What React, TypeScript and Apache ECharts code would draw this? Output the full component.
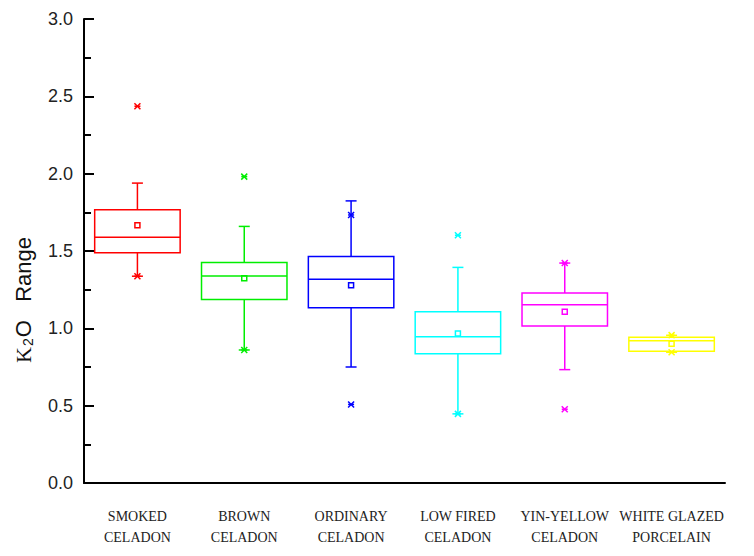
import React, { useEffect, useRef } from "react";
import * as echarts from "echarts";

// Glaze groups along the x axis
const categories = [
  "SMOKED\nCELADON",
  "BROWN\nCELADON",
  "ORDINARY\nCELADON",
  "LOW FIRED\nCELADON",
  "YIN-YELLOW\nCELADON",
  "WHITE GLAZED\nPORCELAIN",
];
const colors = ["#ff0000", "#00ee00", "#0000ff", "#00ffff", "#ff00ff", "#ffff00"];

// K2O box statistics per group
const whiskerLow = [1.337, 0.86, 0.75, 0.447, 0.733, 0.845];
const q1 = [1.489, 1.187, 1.133, 0.835, 1.015, 0.852];
const median = [1.589, 1.339, 1.318, 0.945, 1.153, 0.92];
const q3 = [1.767, 1.426, 1.464, 1.108, 1.229, 0.943];
const whiskerHigh = [1.939, 1.659, 1.824, 1.394, 1.422, 0.955];
const mean = [1.667, 1.324, 1.278, 0.966, 1.108, 0.9];
const crossLow = [1.337, 0.86, 0.508, 0.447, 0.477, 0.845];
const crossHigh = [2.436, 1.981, 1.733, 1.602, 1.422, 0.956];

const yTicks = { min: 0, max: 3, interval: 0.5 };

const rows = categories.map((_, i) => [
  i,
  whiskerLow[i],
  q1[i],
  median[i],
  q3[i],
  whiskerHigh[i],
  mean[i],
  crossLow[i],
  crossHigh[i],
]);

function renderBox(params: any, api: any) {
  const i = api.value(0);
  const color = colors[i];
  const band = api.size([1, 0])[0];
  const bw = band * 0.8;
  const pt = (v: number) => api.coord([i, v]);
  const cx = pt(0)[0];
  const yWL = pt(api.value(1))[1];
  const yQ1 = pt(api.value(2))[1];
  const yMed = pt(api.value(3))[1];
  const yQ3 = pt(api.value(4))[1];
  const yWH = pt(api.value(5))[1];
  const yMean = pt(api.value(6))[1];
  const yXL = pt(api.value(7))[1];
  const yXH = pt(api.value(8))[1];
  const stroke = { stroke: color, lineWidth: 1.5, fill: "none" };
  const line = (x1: number, y1: number, x2: number, y2: number) => ({
    type: "line",
    shape: { x1, y1, x2, y2 },
    style: stroke,
  });
  const cap = 5.5;
  const cross = (y: number) => {
    const s = 3;
    return [
      line(cx - s, y - s, cx + s, y + s),
      line(cx - s, y + s, cx + s, y - s),
      line(cx - s, y, cx + s, y),
    ];
  };
  return {
    type: "group",
    children: [
      line(cx, yWH, cx, yQ3),
      line(cx, yQ1, cx, yWL),
      line(cx - cap, yWH, cx + cap, yWH),
      line(cx - cap, yWL, cx + cap, yWL),
      {
        type: "rect",
        shape: { x: cx - bw / 2, y: yQ3, width: bw, height: yQ1 - yQ3 },
        style: stroke,
      },
      line(cx - bw / 2, yMed, cx + bw / 2, yMed),
      {
        type: "rect",
        shape: { x: cx - 2.5, y: yMean - 2.5, width: 5, height: 5 },
        style: stroke,
      },
      ...cross(yXL),
      ...cross(yXH),
    ],
  };
}

export default function App() {
  const ref = useRef<HTMLDivElement>(null);
  useEffect(() => {
    if (!ref.current) return;
    const chart = echarts.init(ref.current, undefined, { renderer: "svg" });
    chart.setOption({
      animation: false,
      backgroundColor: "#ffffff",
      grid: { left: 76, right: 21, top: 11, bottom: 57 },
      xAxis: {
        type: "category",
        data: categories,
        boundaryGap: true,
        axisLine: { lineStyle: { color: "#000", width: 2 } },
        axisTick: { alignWithLabel: true, length: 9, lineStyle: { color: "#000", width: 2 } },
        axisLabel: {
          interval: 0,
          color: "#222",
          fontFamily: "'Liberation Serif', 'Times New Roman', serif",
          fontSize: 14,
          lineHeight: 21,
          margin: 23,
        },
        splitLine: { show: false },
      },
      yAxis: {
        type: "value",
        min: yTicks.min,
        max: yTicks.max,
        interval: yTicks.interval,
        axisLine: { show: true, lineStyle: { color: "#000", width: 2 } },
        axisTick: { show: true, inside: true, length: 10, lineStyle: { color: "#000", width: 2 } },
        minorTick: { show: true, splitNumber: 2, length: 7, lineStyle: { color: "#000", width: 2 } },
        axisLabel: {
          color: "#222",
          fontFamily: "'Liberation Sans', Arial, sans-serif",
          fontSize: 18,
          margin: 11,
          formatter: (v: number) => v.toFixed(1),
        },
        splitLine: { show: false },
      },
      graphic: [
        {
          type: "text",
          x: 15,
          y: 292,
          rotation: Math.PI / 2,
          style: {
            text: "{k|K}{s|2}{o|O   Range}",
            align: "center",
            verticalAlign: "middle",
            fill: "#111",
            rich: {
              k: { fontFamily: "'Liberation Serif', serif", fontSize: 22, fill: "#111" },
              s: { fontFamily: "'Liberation Sans', sans-serif", fontSize: 14, fill: "#111", padding: [9, 1, 0, 1] },
              o: { fontFamily: "'Liberation Sans', Arial, sans-serif", fontSize: 22, fill: "#111" },
            },
          },
        },
      ],
      series: [
        {
          type: "custom",
          renderItem: renderBox,
          encode: { x: 0, y: [1, 2, 3, 4, 5, 6, 7, 8] },
          data: rows,
          clip: false,
        },
      ],
    });
    return () => chart.dispose();
  }, []);
  return <div ref={ref} style={{ width: 738, height: 540 }} />;
}
